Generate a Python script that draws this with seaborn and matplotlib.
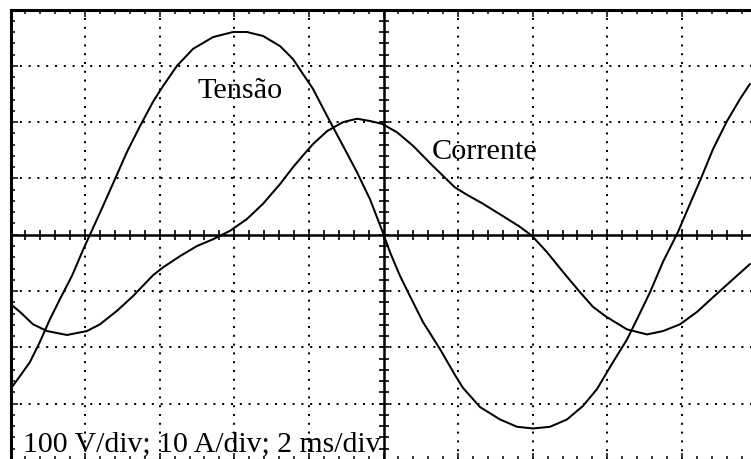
import numpy as np
import pandas as pd
import matplotlib
matplotlib.use("Agg")
import matplotlib.pyplot as plt
import seaborn as sns

# Oscilloscope trace values, in screen divisions (x: 2 ms/div, y: 100 V/div or 10 A/div)
tensao_x = [0.0, 0.127, 0.261, 0.395, 0.529, 0.664, 0.824, 0.972, 1.106, 1.240, 1.401, 1.561,
            1.736, 1.910, 2.044, 2.232, 2.446, 2.715, 2.982, 3.170, 3.385, 3.613, 3.787, 3.948,
            4.055, 4.243, 4.457, 4.645, 4.819, 4.980, 5.087, 5.221, 5.355, 5.529, 5.757, 5.958,
            6.066, 6.294, 6.562, 6.790, 7.004, 7.232, 7.460, 7.674, 7.862, 8.077, 8.264, 8.398,
            8.573, 8.747, 8.948, 9.109, 9.243, 9.417, 9.605, 9.779, 9.913]
tensao_y = [-2.74, -2.51, -2.26, -1.90, -1.50, -1.14, -0.73, -0.27, 0.12, 0.51, 0.99, 1.47,
            1.93, 2.36, 2.64, 3.00, 3.30, 3.51, 3.60, 3.60, 3.53, 3.35, 3.12, 2.80,
            2.59, 2.11, 1.58, 1.11, 0.63, 0.08, -0.31, -0.73, -1.09, -1.55, -2.03, -2.49,
            -2.72, -3.06, -3.28, -3.41, -3.44, -3.41, -3.28, -3.04, -2.74, -2.26, -1.86, -1.50,
            -1.02, -0.48, 0.05, 0.55, 0.96, 1.52, 2.02, 2.41, 2.68]

corrente_x = [0.0, 0.127, 0.302, 0.489, 0.757, 1.025, 1.200, 1.428, 1.642, 1.910, 2.044, 2.272,
              2.500, 2.715, 2.943, 3.170, 3.385, 3.613, 3.787, 3.948, 4.055, 4.243, 4.457, 4.645,
              4.819, 4.980, 5.181, 5.395, 5.663, 5.958, 6.119, 6.334, 6.602, 6.830, 6.991, 7.192,
              7.406, 7.634, 7.808, 7.969, 8.077, 8.264, 8.532, 8.747, 8.975, 9.203, 9.417, 9.685,
              9.913]
corrente_y = [-1.23, -1.37, -1.59, -1.71, -1.78, -1.71, -1.59, -1.35, -1.09, -0.72, -0.58, -0.38,
              -0.20, -0.08, 0.07, 0.28, 0.55, 0.90, 1.20, 1.45, 1.61, 1.84, 2.00, 2.06,
              2.02, 1.97, 1.82, 1.58, 1.22, 0.84, 0.71, 0.55, 0.33, 0.14, -0.02, -0.31,
              -0.66, -1.02, -1.28, -1.44, -1.53, -1.68, -1.77, -1.71, -1.59, -1.37, -1.11, -0.79,
              -0.52]

label_tensao = "Tensão"
label_corrente = "Corrente"
label_escala = "100 V/div; 10 A/div; 2 ms/div"

sns.set_style("white")
plt.rcParams["font.family"] = ["Liberation Serif", "DejaVu Serif"]

W, H = 751, 460
fig = plt.figure(figsize=(W / 100, H / 100), dpi=100)
fig.patch.set_facecolor("white")
# screen: left border at px 10.5, 74.6 px/div; top border at px 10.5, 56.3 px/div
ax = fig.add_axes([10.5 / W, -1.0 / H, 746.0 / W, 450.5 / H])
ax.set_xlim(0, 10)
ax.set_ylim(-4, 4)

# dotted graticule
for gx in range(1, 10):
    if gx != 5:
        ax.axvline(gx, color="black", lw=1.44, ls=(0, (1, 3.4)), zorder=1)
for gy in range(-3, 4):
    if gy != 0:
        ax.axhline(gy, color="black", lw=1.44, ls=(0, (1, 3.4)), zorder=1)

# center axes with ticks
ax.axhline(0, color="black", lw=1.8, zorder=2)
ax.axvline(5, color="black", lw=1.8, zorder=2)
mx = np.arange(0.2, 10.0, 0.2)
my = np.arange(-3.8, 4.0, 0.2)
ax.plot(mx, np.zeros_like(mx), ls="none", marker="|", ms=7, mew=1.2, color="black", zorder=2)
ax.plot(np.full_like(my, 5.0), my, ls="none", marker="_", ms=7, mew=1.2, color="black", zorder=2)

# border ticks
ax.set_xticks(np.arange(0, 11, 1))
ax.set_yticks(np.arange(-4, 5, 1))
ax.set_xticks(np.arange(0, 10.01, 0.2), minor=True)
ax.set_yticks(np.arange(-4, 4.01, 0.2), minor=True)
ax.tick_params(which="both", direction="in", top=True, bottom=True, left=True, right=True,
               labelbottom=False, labelleft=False, color="black")
ax.tick_params(which="major", length=5, width=1.1)
ax.tick_params(which="minor", length=2.9, width=1.1)
for s in ax.spines.values():
    s.set_visible(True)
    s.set_linewidth(2.2)
    s.set_color("black")
ax.grid(False)

df_t = pd.DataFrame({"t": tensao_x, "v": tensao_y})
df_c = pd.DataFrame({"t": corrente_x, "v": corrente_y})
sns.lineplot(data=df_t, x="t", y="v", sort=False, estimator=None, color="black", lw=1.45, ax=ax, zorder=3)
sns.lineplot(data=df_c, x="t", y="v", sort=False, estimator=None, color="black", lw=1.45, ax=ax, zorder=3)
ax.set_xlabel("")
ax.set_ylabel("")

ax.text(2.51, 2.45, label_tensao, fontsize=21.8, color="black", ha="left", va="baseline", zorder=4)
ax.text(5.65, 1.36, label_corrente, fontsize=21.8, color="black", ha="left", va="baseline", zorder=4)
ax.text(0.17, -3.84, label_escala, fontsize=21.4, color="black", ha="left", va="baseline", zorder=4)

fig.savefig("out.png", dpi=100)
